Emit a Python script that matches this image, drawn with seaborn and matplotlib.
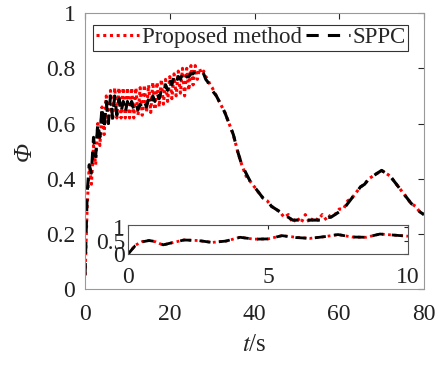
import numpy as np
import pandas as pd
import matplotlib
matplotlib.use("Agg")
import matplotlib.pyplot as plt
import seaborn as sns

# ---------------- data ----------------
t_main = np.concatenate([np.arange(0, 30.5, 0.5), np.arange(31, 81, 1)])

prop_main = [0.05, 0.30, 0.45, 0.38, 0.52, 0.45, 0.60, 0.52, 0.66, 0.56,
             0.70, 0.60, 0.72, 0.61, 0.73, 0.62, 0.73, 0.62, 0.73, 0.62,
             0.73, 0.62, 0.73, 0.62, 0.73, 0.63, 0.73, 0.63, 0.74, 0.64,
             0.74, 0.64, 0.75, 0.65, 0.75, 0.66, 0.76, 0.67, 0.76, 0.68,
             0.77, 0.69, 0.78, 0.70, 0.79, 0.71, 0.80, 0.70, 0.80, 0.72,
             0.81, 0.74, 0.81, 0.76, 0.80, 0.78, 0.79, 0.77, 0.76, 0.74,
             0.73,
             0.70, 0.67, 0.64, 0.60, 0.56, 0.50, 0.45, 0.41, 0.39, 0.37,
             0.35, 0.33, 0.32, 0.30, 0.29, 0.28, 0.26, 0.27, 0.24, 0.26,
             0.24, 0.27, 0.24, 0.26, 0.25, 0.27, 0.25, 0.27, 0.27, 0.29,
             0.29, 0.32, 0.33, 0.35, 0.37, 0.38, 0.40, 0.41, 0.42, 0.43,
             0.42, 0.41, 0.39, 0.37, 0.35, 0.33, 0.31, 0.30, 0.28, 0.27]

sppc_main = [0.05, 0.35, 0.45, 0.42, 0.55, 0.48, 0.60, 0.55, 0.66, 0.58,
             0.68, 0.60, 0.70, 0.62, 0.70, 0.63, 0.69, 0.64, 0.68, 0.64,
             0.68, 0.65, 0.68, 0.65, 0.67, 0.65, 0.67, 0.66, 0.68, 0.66,
             0.69, 0.67, 0.70, 0.68, 0.71, 0.69, 0.72, 0.71, 0.74, 0.72,
             0.76, 0.74, 0.77, 0.75, 0.77, 0.76, 0.78, 0.76, 0.77, 0.77,
             0.78, 0.78, 0.79, 0.79, 0.79, 0.79, 0.78, 0.76, 0.75, 0.73,
             0.72,
             0.70, 0.67, 0.64, 0.60, 0.56, 0.50, 0.45, 0.42, 0.39, 0.37,
             0.35, 0.33, 0.32, 0.30, 0.29, 0.28, 0.27, 0.26, 0.25, 0.25,
             0.25, 0.25, 0.25, 0.25, 0.25, 0.25, 0.26, 0.26, 0.27, 0.28,
             0.29, 0.31, 0.33, 0.35, 0.37, 0.38, 0.40, 0.41, 0.42, 0.43,
             0.42, 0.41, 0.39, 0.37, 0.35, 0.33, 0.31, 0.30, 0.28, 0.27]

t_inset = [0, 0.25, 0.5, 0.75, 1.0, 1.25, 1.5, 2, 2.5, 3, 3.5, 4, 4.5, 5,
           5.5, 6, 6.5, 7, 7.5, 8, 8.5, 9, 9.5, 10]
prop_inset = [0.0, 0.32, 0.46, 0.50, 0.45, 0.33, 0.40, 0.52, 0.50, 0.43,
              0.48, 0.62, 0.55, 0.56, 0.68, 0.62, 0.58, 0.64, 0.72, 0.63,
              0.62, 0.74, 0.70, 0.66]
sppc_inset = [0.0, 0.30, 0.45, 0.50, 0.46, 0.34, 0.40, 0.52, 0.50, 0.43,
              0.48, 0.62, 0.55, 0.56, 0.68, 0.61, 0.58, 0.64, 0.72, 0.63,
              0.62, 0.74, 0.70, 0.66]

labels = ["Proposed method", "SPPC"]
x_ticks = [0, 20, 40, 60, 80]
y_ticks = [0, 0.2, 0.4, 0.6, 0.8, 1]
y_ticklabels = ["0", "0.2", "0.4", "0.6", "0.8", "1"]

# ---------------- style ----------------
sns.set_style("white")
plt.rcParams['font.family'] = ['Liberation Serif', 'DejaVu Serif']
plt.rcParams['mathtext.fontset'] = 'stix'

FS = 17

fig = plt.figure(figsize=(4.43, 3.65), dpi=100)
ax = fig.add_axes([0.192, 0.208, 0.765, 0.756])

df_p = pd.DataFrame({"t": t_main, "v": prop_main})
df_s = pd.DataFrame({"t": t_main, "v": sppc_main})

red = (1, 0, 0)
sns.lineplot(data=df_p, x="t", y="v", ax=ax, color=red, lw=2.2,
             linestyle=(0, (1, 1.2)), label=labels[0], estimator=None)
sns.lineplot(data=df_s, x="t", y="v", ax=ax, color="black", lw=2.2,
             linestyle=(0, (4, 3)), label=labels[1], estimator=None)

ax.set_xlim(0, 80)
ax.set_ylim(0, 1)
ax.set_xticks(x_ticks)
ax.set_yticks(y_ticks)
ax.set_yticklabels(y_ticklabels)
ax.tick_params(direction="in", length=4, labelsize=FS, colors="#262626",
               top=True, right=True)
ax.tick_params(axis="x", pad=11)
ax.tick_params(axis="y", pad=7)
for lab in ax.get_xticklabels() + ax.get_yticklabels():
    lab.set_color("#222222")
for s in ax.spines.values():
    s.set_color("#999999")
    s.set_linewidth(0.8)
ax.set_xlabel("$t$/s", fontsize=FS + 1, labelpad=6)
ax.set_ylabel("Φ", fontsize=FS + 1, style="italic", labelpad=7)

leg = ax.legend(loc="upper left", bbox_to_anchor=(0.01, 0.975), ncol=2,
                fontsize=FS - 0.5, frameon=True, fancybox=False,
                handlelength=1.9, handletextpad=0.1, columnspacing=0.2,
                borderpad=0.12, borderaxespad=0.2)
leg.get_frame().set_edgecolor("black")
leg.get_frame().set_linewidth(0.8)

# inset
axin = fig.add_axes([0.289, 0.304, 0.632, 0.080])
df_pi = pd.DataFrame({"t": t_inset, "v": prop_inset})
df_si = pd.DataFrame({"t": t_inset, "v": sppc_inset})
sns.lineplot(data=df_pi, x="t", y="v", ax=axin, color=red, lw=2.0,
             linestyle=(0, (1, 1.2)), estimator=None, legend=False)
sns.lineplot(data=df_si, x="t", y="v", ax=axin, color="black", lw=2.0,
             linestyle=(0, (4, 3)), estimator=None, legend=False)
axin.set_xlim(0, 10)
axin.set_ylim(0, 1.08)
axin.set_xticks([0, 5, 10])
axin.set_yticks([0, 0.5, 1])
axin.set_yticklabels(["0", "0.5", "1"])
axin.tick_params(direction="in", length=3, labelsize=FS, top=True,
                 right=True, colors="#262626")
axin.tick_params(axis="x", pad=9)
axin.tick_params(axis="y", pad=2)
for lab in axin.get_xticklabels() + axin.get_yticklabels():
    lab.set_color("#222222")
axin.set_xlabel("")
axin.set_ylabel("")
for s in axin.spines.values():
    s.set_color("#555555")
    s.set_linewidth(0.8)

fig.savefig("out.png", dpi=100)
